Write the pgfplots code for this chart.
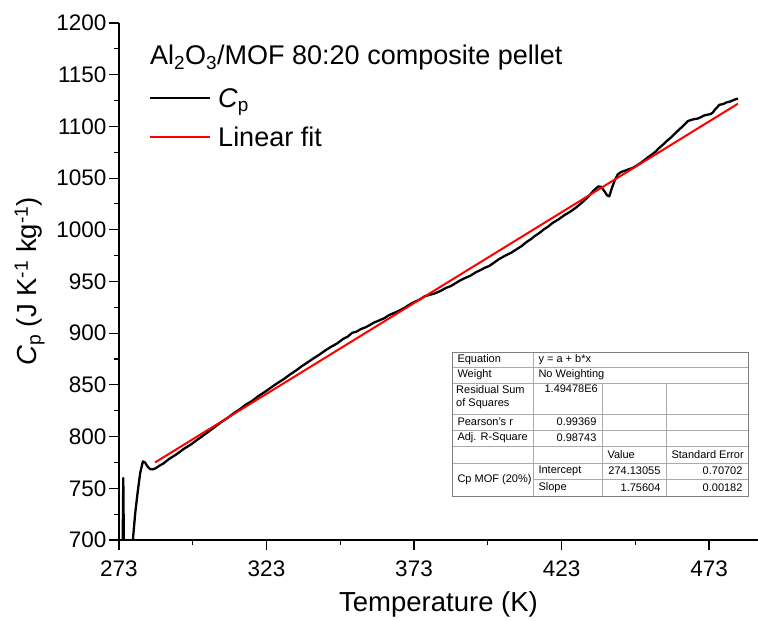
\documentclass[border=0pt]{standalone}
\usepackage{pgfplots}
\pgfplotsset{compat=1.18}
\usepackage{fontspec}
\setmainfont{Liberation Sans}
\definecolor{gridgray}{RGB}{170,170,170}
\begin{document}
\begin{tikzpicture}
\useasboundingbox (-119pt,-81pt) rectangle (639pt,540pt);
\begin{axis}[
  name=ax,
  at={(0pt,0pt)}, anchor=south west,
  scale only axis,
  width=639pt, height=517pt,
  xmin=273, xmax=489.6,
  ymin=700, ymax=1200,
  axis x line*=bottom, axis y line*=left,
  axis line style={line width=1.1pt},
  xtick={273,323,373,423,473},
  ytick={700,750,...,1200},
  minor x tick num=1, minor y tick num=1,
  tick align=inside,
  major tick length=-10pt, minor tick length=-5pt,
  every tick/.style={line width=1.1pt, black},
  /pgf/number format/assume math mode=true,
  /pgf/number format/1000 sep={},
  tick label style={font=\fontsize{22.5}{26}\selectfont},
  xticklabel style={yshift=-17pt},
  yticklabel style={xshift=-9pt},
  xlabel style={font=\fontsize{27.5}{32}\selectfont, yshift=-8pt},
  ylabel style={font=\fontsize{27.5}{32}\selectfont, yshift=5pt},
  xlabel={Temperature (K)},
  ylabel={\textit{C}\textsubscript{p} (J K\textsuperscript{-1} kg\textsuperscript{-1})},
]
\addplot[black, line width=2.3pt, line join=round] table {
274.1 650
274.45 760
274.8 650
277.2 650
277.7 700
278.5 726
279.4 748
280.2 765
281.1 776
281.8 775
282.7 771
283.6 768.5
284.5 768.3
285.5 769.5
286.5 771.5
288 773.9
290 778.4
292.5 782.9
295 788.2
297.5 792.6
300 797.9
302.5 803.0
305 808.2
307.5 813.7
310 818.5
312 822.8
314 826.5
316 830.9
318 834.2
320 838.6
323 844.3
326 850.4
329 855.9
331 860.1
333 863.9
335 868.2
337 871.9
339 875.8
341 879.4
343 883.5
345 887.0
347 890.2
349 894.5
350.5 896.6
352 900.3
353.5 901.5
355 904.0
356.5 905.6
358 907.8
359.5 910.4
361 912.1
363 914.6
364.5 917.4
366 919.3
368 921.8
370 924.9
372 928.6
375 932.7
376.5 935.5
378 936.9
380 938.4
382 940.9
384 944.0
385.5 945.6
387 948.2
388.5 950.8
390 953.0
392 955.4
394 959.0
395.5 961.0
397 963.3
398.5 965.0
400 968.0
402 972.0
404 975.1
406 977.9
408 981.6
409.5 984.3
411 987.9
412.5 990.7
414 994.1
415.5 996.9
417 1000.4
418.5 1003.2
420 1006.7
422 1010.1
424 1014.2
426 1017.6
428 1021.7
430 1026.5
432 1031.7
433 1035.0
434 1038.3
435.5 1041.9
436.5 1041.6
437.5 1037.4
438.5 1033.2
439.2 1032.4
440 1039.8
441 1047.5
442 1053.3
443 1055.5
443.8 1056.5
445 1057.6
446 1058.8
447 1059.6
448 1061.3
449.5 1064.0
451 1067.1
452.2 1069.9
453.4 1072.3
454.8 1075.4
456 1078.9
457.5 1082.6
459 1086.7
460 1089.0
461 1091.7
462 1094.6
463 1097.2
464.5 1101.3
465.8 1105.1
467 1106.3
468 1107.0
469.2 1107.6
470.3 1109.0
471.2 1110.4
472 1111.0
473 1111.6
473.7 1112.0
474.5 1114.2
475 1116.3
475.8 1118.6
476.5 1120.9
477.8 1121.6
479 1123.3
480.2 1124.1
481.5 1125.7
482.8 1127.0
};
\addplot[red, line width=2pt] table {
285.2 774.96
482.8 1121.95
};
% title and legend
\node[anchor=base west, font=\fontsize{27}{32}\selectfont, inner sep=0pt]
  at (rel axis cs:0.0485,0.919) {Al\textsubscript{2}O\textsubscript{3}/MOF 80:20 composite pellet};
\draw[black, line width=1.5pt] (rel axis cs:0.0485,0.855) -- (rel axis cs:0.1424,0.855);
\node[anchor=base west, font=\fontsize{27}{32}\selectfont, inner sep=0pt]
  at (rel axis cs:0.155,0.8356) {\textit{C}\textsubscript{p}};
\draw[red, line width=1.5pt] (rel axis cs:0.0485,0.7795) -- (rel axis cs:0.1424,0.7795);
\node[anchor=base west, font=\fontsize{27}{32}\selectfont, inner sep=0pt]
  at (rel axis cs:0.155,0.7602) {Linear fit};
\end{axis}
% fit results table
\begin{scope}[x=1pt, y=1pt, font=\fontsize{11}{13}\selectfont]
\fill[white] (333,44) rectangle (629,188);
\draw[gridgray, line width=0.6pt]
  (333,173) -- (629,173)
  (333,157) -- (629,157)
  (333,126) -- (629,126)
  (333,110) -- (629,110)
  (333,94) -- (629,94)
  (333,77) -- (629,77)
  (414,61) -- (629,61)
  (414,44) -- (414,188)
  (483,44) -- (483,157)
  (547,44) -- (547,157);
\draw[gray, line width=0.8pt] (333,44) rectangle (629,188);
\node[anchor=west] at (335,180.5) {Equation};
\node[anchor=west] at (416,180.5) {y = a + b*x};
\node[anchor=west] at (335,165) {Weight};
\node[anchor=west] at (416,165) {No Weighting};
\node[anchor=north west, align=left, inner sep=2pt] at (335,157) {Residual Sum\\of Squares};
\node[anchor=north east, inner sep=2pt] at (481,157) {1.49478E6};
\node[anchor=west] at (335,118) {Pearson's r};
\node[anchor=east] at (481,118) {0.99369};
\node[anchor=west] at (335,102) {Adj. R-Square};
\node[anchor=east] at (481,102) {0.98743};
\node[anchor=west] at (485,85.5) {Value};
\node[anchor=west] at (549,85.5) {Standard Error};
\node[anchor=west] at (335,60.5) {Cp MOF (20\%)};
\node[anchor=west] at (416,69) {Intercept};
\node[anchor=east] at (545,69) {274.13055};
\node[anchor=east] at (627,69) {0.70702};
\node[anchor=west] at (416,52.5) {Slope};
\node[anchor=east] at (545,52.5) {1.75604};
\node[anchor=east] at (627,52.5) {0.00182};
\end{scope}
\end{tikzpicture}
\end{document}
